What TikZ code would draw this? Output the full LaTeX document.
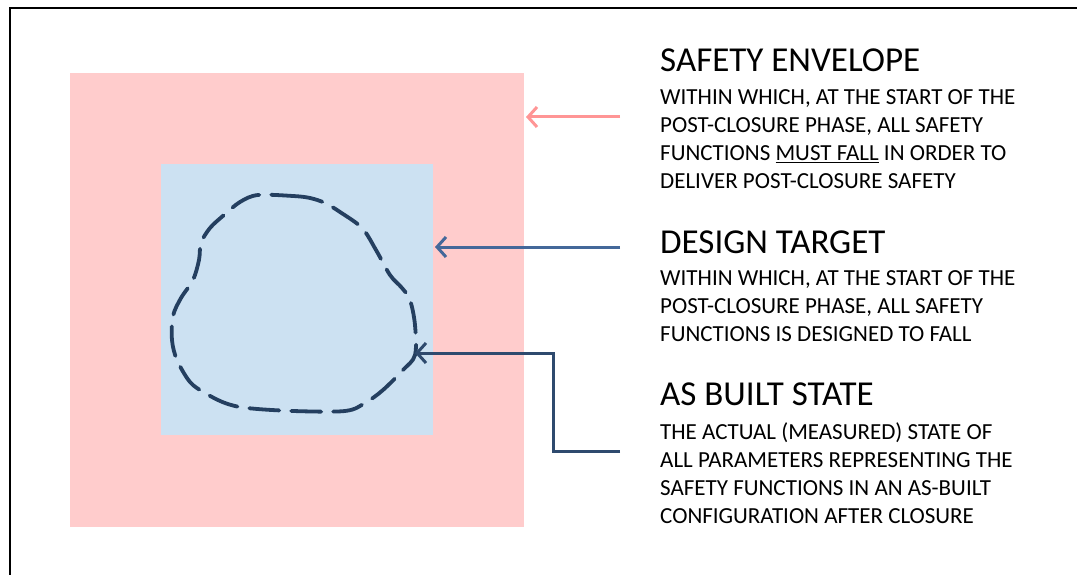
\documentclass[tikz,border=0pt]{standalone}
\usepackage{fontspec}
\setmainfont{Carlito}
\usetikzlibrary{arrows.meta}
\definecolor{envfill}{HTML}{FFCCCC}
\definecolor{tgtfill}{HTML}{CCE1F2}
\definecolor{envarrow}{HTML}{FF9595}
\definecolor{tgtarrow}{HTML}{44689A}
\definecolor{asbarrow}{HTML}{2E4A6E}
\definecolor{blobcol}{HTML}{243F60}
\tikzset{
  titletext/.style={anchor=base west, inner sep=0pt, font=\fontsize{35}{40}\selectfont},
  bodytext/.style={anchor=base west, inner sep=0pt, align=left, font=\fontsize{23}{28}\selectfont},
  pointer/.style={line width=3pt, -{Straight Barb[length=9pt,width=20pt,line width=3pt]}},
}
\begin{document}
\begin{tikzpicture}[x=1pt,y=-1pt]
\useasboundingbox (0,0) rectangle (1077,575);
% frame
\draw[line width=2pt] (10,575) -- (10,8.5) -- (1077,8.5);
% regions
\fill[envfill] (70,73) rectangle (524,527);
\fill[tgtfill] (161,164) rectangle (433,435);
\coordinate (envedge) at (526,117);
\coordinate (tgtedge) at (435,247);
\coordinate (blobedge) at (415,353);
% blob
\draw[blobcol, line width=3.8pt, dash pattern=on 30pt off 12pt, line cap=round]
  plot[smooth cycle, tension=0.55] coordinates {
  (258,195) (293,196) (310,198) (325,203) (340,212) (362,228) (376,250)
  (390,275) (402,288) (410,300) (415,325) (415,355) (403,370) (383,390)
  (365,403) (345,411) (293,411) (247,408) (225,403) (205,393) (190,382)
  (177,360) (172,340) (173,316) (181,298) (193,280) (199,260) (201,243)
  (210,228) (224,215) (240,202)};
% arrows
\coordinate (envstart) at (620,117);
\coordinate (tgtstart) at (620,247);
\coordinate (asbstart) at (620,451);
\coordinate (asbcorner1) at (553,451);
\coordinate (asbcorner2) at (553,353);
\draw[pointer, envarrow] (envstart) -- (envedge);
\draw[pointer, tgtarrow] (tgtstart) -- (tgtedge);
\draw[pointer, asbarrow, line join=miter] (asbstart) -- (asbcorner1) -- (asbcorner2) -- (blobedge);
% texts
\node[titletext] (envtitle) at (660,72) {SAFETY ENVELOPE};
\node[bodytext] (envbody) at (660,189) {WITHIN WHICH, AT THE START OF THE\\POST-CLOSURE PHASE, ALL SAFETY\\FUNCTIONS \underline{MUST FALL} IN ORDER TO\\DELIVER POST-CLOSURE SAFETY};
\node[titletext] (tgttitle) at (660,253) {DESIGN TARGET};
\node[bodytext] (tgtbody) at (660,341) {WITHIN WHICH, AT THE START OF THE\\POST-CLOSURE PHASE, ALL SAFETY\\FUNCTIONS IS DESIGNED TO FALL};
\node[titletext] (asbtitle) at (660,405) {AS BUILT STATE};
\node[bodytext] (asbbody) at (660,523) {THE ACTUAL (MEASURED) STATE OF\\ALL PARAMETERS REPRESENTING THE\\SAFETY FUNCTIONS IN AN AS-BUILT\\CONFIGURATION AFTER CLOSURE};
\end{tikzpicture}
\end{document}
